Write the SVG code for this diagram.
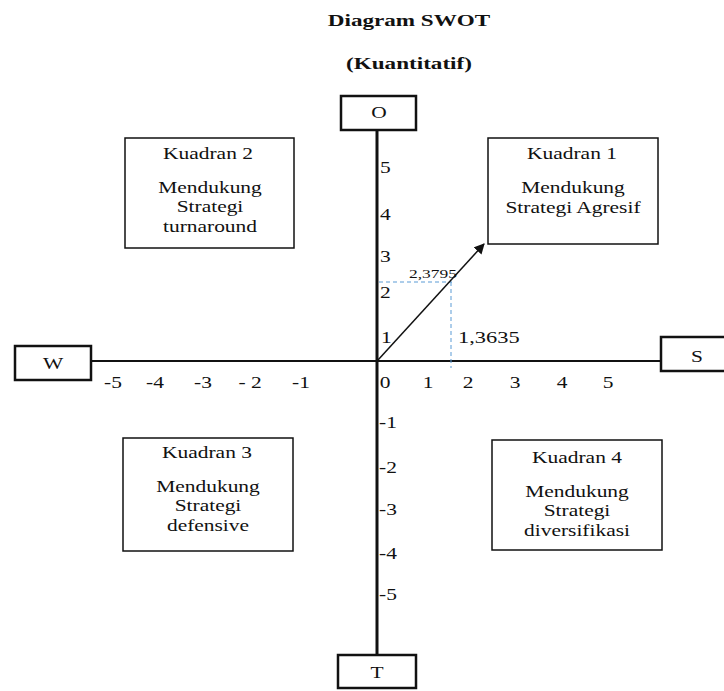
<svg xmlns="http://www.w3.org/2000/svg" width="724" height="691" viewBox="0 0 724 691">
<style>
text{font-family:'Liberation Serif','DejaVu Serif',serif;fill:#111;font-size:16px;}
.t{font-size:17px;font-weight:bold;text-anchor:middle;}
.c{text-anchor:middle;}
.box{fill:#fff;stroke:#111;stroke-width:1.5;}
.lbox{fill:#fff;stroke:#111;stroke-width:2.5;}
.dash{stroke:#5B9BD5;stroke-width:1;stroke-dasharray:4 3;fill:none;}
</style>
<defs>
<marker id="ah" viewBox="0 0 10 10" refX="9" refY="5" markerWidth="7" markerHeight="7" orient="auto"><path d="M0,0 L10,5 L0,10 z" fill="#111"/></marker>
</defs>
<text class="t" transform="translate(409,26) scale(1.36,1)">Diagram SWOT</text>
<text class="t" transform="translate(409,69) scale(1.36,1)">(Kuantitatif)</text>
<g id="connectors">
<line x1="377" y1="130" x2="377" y2="654" stroke="#111" stroke-width="3"/>
<line x1="91" y1="361" x2="661" y2="361" stroke="#111" stroke-width="2"/>
<line class="dash" x1="379" y1="282" x2="452" y2="282"/>
<line class="dash" x1="451" y1="282" x2="451" y2="368"/>
<line x1="378" y1="360" x2="484" y2="244" stroke="#111" stroke-width="1.5" marker-end="url(#ah)"/>
</g>
<g id="O"><rect class="lbox" x="341" y="96" width="75" height="34"/><text class="c" transform="translate(379,118) scale(1.34,1)">O</text></g>
<g id="T"><rect class="lbox" x="338" y="655" width="78" height="33"/><text class="c" transform="translate(377,678) scale(1.34,1)">T</text></g>
<g id="W"><rect class="lbox" x="15" y="346" width="76" height="34"/><text class="c" transform="translate(53,369) scale(1.34,1)">W</text></g>
<g id="S"><rect class="lbox" x="661" y="337" width="66" height="34"/><text class="c" transform="translate(697,362) scale(1.34,1)">S</text></g>
<g id="ticks">
<text class="c" transform="translate(113,388) scale(1.34,1)">-5</text>
<text class="c" transform="translate(155,388) scale(1.34,1)">-4</text>
<text class="c" transform="translate(203,388) scale(1.34,1)">-3</text>
<text class="c" transform="translate(250,388) scale(1.34,1)">- 2</text>
<text class="c" transform="translate(301,388) scale(1.34,1)">-1</text>
<text class="c" transform="translate(385,388) scale(1.34,1)">0</text>
<text class="c" transform="translate(428,388) scale(1.34,1)">1</text>
<text class="c" transform="translate(468,388) scale(1.34,1)">2</text>
<text class="c" transform="translate(515,388) scale(1.34,1)">3</text>
<text class="c" transform="translate(562,388) scale(1.34,1)">4</text>
<text class="c" transform="translate(608,388) scale(1.34,1)">5</text>
<text transform="translate(380,173) scale(1.34,1)">5</text>
<text transform="translate(380,220) scale(1.34,1)">4</text>
<text transform="translate(380,262) scale(1.34,1)">3</text>
<text transform="translate(380,298) scale(1.34,1)">2</text>
<text transform="translate(381,343) scale(1.34,1)">1</text>
<text transform="translate(379,428) scale(1.34,1)">-1</text>
<text transform="translate(379,473) scale(1.34,1)">-2</text>
<text transform="translate(379,515) scale(1.34,1)">-3</text>
<text transform="translate(379,559) scale(1.34,1)">-4</text>
<text transform="translate(379,600) scale(1.34,1)">-5</text>
<text transform="translate(409,278) scale(1.34,1)" style="font-size:13px">2,3795</text>
<text transform="translate(458,343) scale(1.32,1)" style="font-size:17px">1,3635</text>
</g>
<g id="k2"><rect class="box" x="125" y="138" width="169" height="110"/>
<text class="c" transform="translate(208,159) scale(1.34,1)">Kuadran 2</text>
<text class="c" transform="translate(210,193) scale(1.34,1)">Mendukung</text>
<text class="c" transform="translate(210,212) scale(1.34,1)">Strategi</text>
<text class="c" transform="translate(210,232) scale(1.34,1)">turnaround</text></g>
<g id="k1"><rect class="box" x="488" y="138" width="170" height="106"/>
<text class="c" transform="translate(572,159) scale(1.34,1)">Kuadran 1</text>
<text class="c" transform="translate(573,193) scale(1.34,1)">Mendukung</text>
<text class="c" transform="translate(573,213) scale(1.34,1)">Strategi Agresif</text></g>
<g id="k3"><rect class="box" x="123" y="438" width="170" height="113"/>
<text class="c" transform="translate(207,458) scale(1.34,1)">Kuadran 3</text>
<text class="c" transform="translate(208,492) scale(1.34,1)">Mendukung</text>
<text class="c" transform="translate(208,511) scale(1.34,1)">Strategi</text>
<text class="c" transform="translate(208,531) scale(1.34,1)">defensive</text></g>
<g id="k4"><rect class="box" x="492" y="440" width="170" height="110"/>
<text class="c" transform="translate(577,463) scale(1.34,1)">Kuadran 4</text>
<text class="c" transform="translate(577,497) scale(1.34,1)">Mendukung</text>
<text class="c" transform="translate(577,516) scale(1.34,1)">Strategi</text>
<text class="c" transform="translate(577,536) scale(1.34,1)">diversifikasi</text></g>
</svg>
